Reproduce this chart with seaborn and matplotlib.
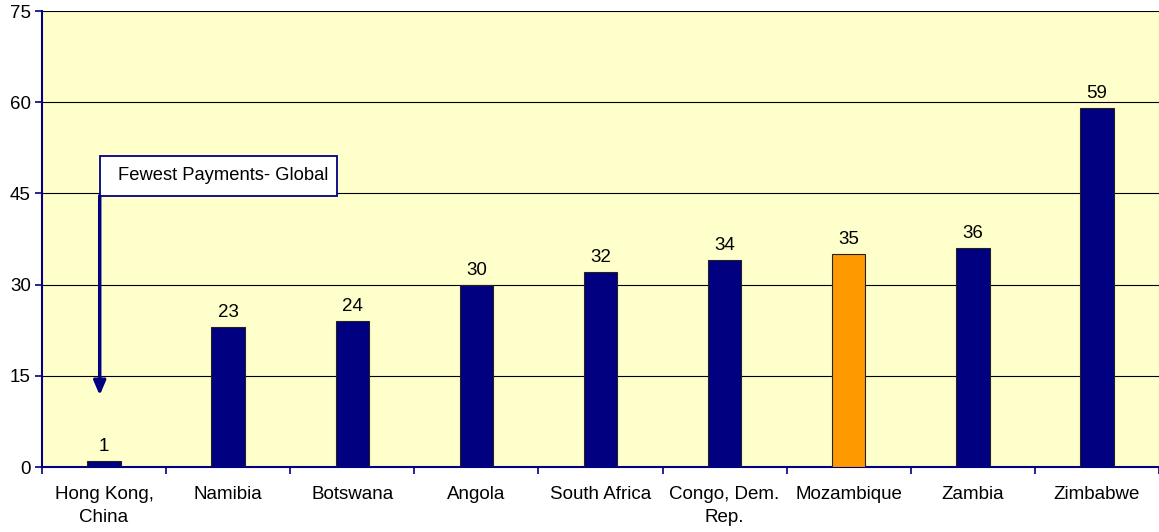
import matplotlib
matplotlib.use("Agg")
import matplotlib.pyplot as plt
import matplotlib.patches as mpatches
import seaborn as sns
import pandas as pd
import numpy as np

countries = ["Hong Kong,\nChina", "Namibia", "Botswana", "Angola", "South Africa",
             "Congo, Dem.\nRep.", "Mozambique", "Zambia", "Zimbabwe"]
payments = [1, 23, 24, 30, 32, 34, 35, 36, 59]
highlight = ["no", "no", "no", "no", "no", "no", "yes", "no", "no"]
yticks = [0, 15, 30, 45, 60, 75]
annotation_text = "Fewest Payments- Global"

sns.set_theme(style="white")
plt.rcParams['font.family'] = ['Liberation Sans', 'DejaVu Sans']
plt.rcParams['text.color'] = 'black'
plt.rcParams['xtick.color'] = 'black'
plt.rcParams['ytick.color'] = 'black'

df = pd.DataFrame({"country": countries, "payments": payments, "hl": highlight})

fig = plt.figure(figsize=(11.59, 5.32), dpi=100)
ax = fig.add_axes([42/1159, 65/532, 1 - 42/1159, (467-11)/532])
ax.set_facecolor("#FFFFCC")

navy = "#000080"
sns.barplot(data=df, x="country", y="payments", hue="hl",
            palette={"no": navy, "yes": "#FF9900"}, width=0.27, saturation=1,
            dodge=False, legend=False, edgecolor="#222222", linewidth=0.8,
            ax=ax, zorder=3)

ax.set_ylim(0, 75)
ax.set_xlim(-0.5, len(countries) - 0.5)
ax.set_yticks(yticks)
ax.set_yticklabels([str(t) for t in yticks], fontsize=13.5)
ax.yaxis.grid(True, color="black", linewidth=0.8, zorder=1)
ax.set_axisbelow(True)
ax.set_xlabel("")
ax.set_ylabel("")

for s in ["top", "right"]:
    ax.spines[s].set_visible(False)
for s in ["left", "bottom"]:
    ax.spines[s].set_color(navy)
    ax.spines[s].set_linewidth(1.5)

ax.tick_params(axis="y", which="major", direction="out", length=5, color=navy, width=1.2,
               left=True, pad=3, labelcolor="black")
ax.tick_params(axis="x", which="major", length=0, labelsize=13.5, pad=14, labelcolor="black")
ax.set_xticks(np.arange(-0.5, len(countries), 1.0), minor=True)
ax.tick_params(axis="x", which="minor", direction="out", length=5, color=navy, width=1.2, bottom=True)
ax.set_xticklabels(countries, fontsize=13.5, linespacing=1.4)

for i, v in enumerate(payments):
    ax.text(i, v + 1.0, str(v), ha="center", va="bottom", fontsize=13.5, color="black")

# annotation
ax.annotate("", xy=(-0.035, 11.8), xytext=(-0.035, 44.6),
            arrowprops=dict(arrowstyle="-|>,head_length=0.7,head_width=0.3",
                            color=navy, lw=2.5, shrinkA=0, shrinkB=0), zorder=5)
box = mpatches.Rectangle((-0.035, 44.6), 1.915, 6.6, facecolor="white", edgecolor=navy,
                         linewidth=1.3, zorder=6)
ax.add_patch(box)
ax.text(0.113, 47.9, annotation_text, ha="left", va="center", fontsize=13.2, zorder=7, color="black")

fig.savefig("out.png", dpi=100)
